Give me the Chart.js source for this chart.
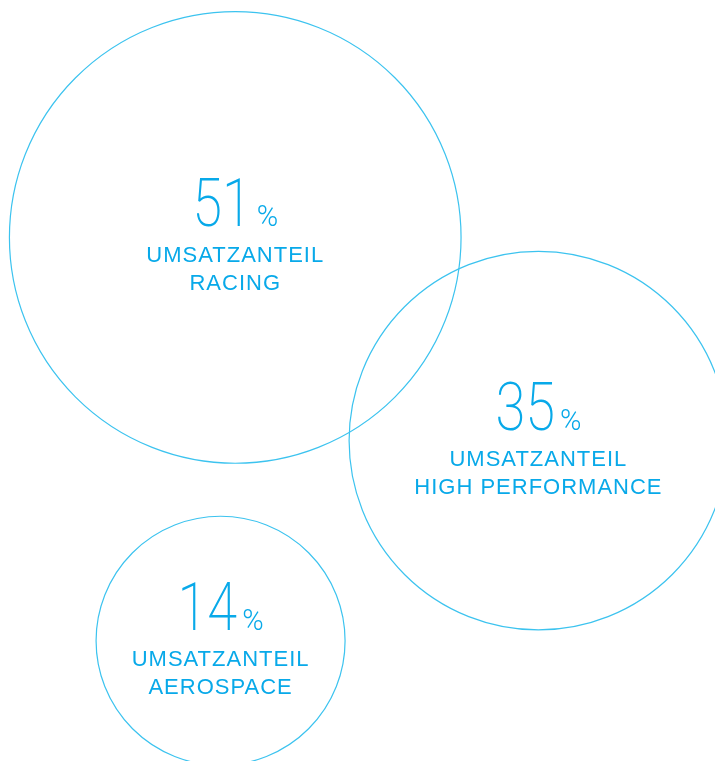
<!DOCTYPE html>
<html>
<head>
<meta charset="utf-8">
<script src="https://cdn.jsdelivr.net/npm/chart.js@4/dist/chart.umd.min.js"></script>
<style>
    html, body { margin: 0; padding: 0; background: #fff; }
    #wrap { width: 715px; height: 761px; }
</style>
</head>
<body>
<div id="wrap"><canvas id="shareChart" width="715" height="761"></canvas></div>
<script>
// Umsatzanteile je Geschäftsbereich
const segments = ['RACING', 'HIGH PERFORMANCE', 'AEROSPACE'];
const shares = [51, 35, 14];
// Lage der Kreise auf der Seite (0..100)
const posX = [32.9, 75.3, 30.85];
const posY = [31.2, 57.9, 84.2];

const circleColor = '#3cc3ef';
const textColor = '#08a9e9';

const labelPlugin = {
    id: 'bubbleLabels',
    afterDatasetsDraw(chart) {
        const ctx = chart.ctx;
        const meta = chart.getDatasetMeta(0);

        meta.data.forEach((el, i) => {
            const cx = el.x;
            const cy = el.y;
            const num = String(shares[i]);

            ctx.save();
            ctx.fillStyle = textColor;
            ctx.textBaseline = 'alphabetic';

            // Zahl (schmal) + Prozentzeichen
            const sx = 0.82;
            ctx.font = '200 66px Roboto';
            const numW = ctx.measureText(num).width * sx;
            ctx.font = '300 29px Roboto';
            const pctW = ctx.measureText('%').width;
            const gap = 5;
            const startX = cx - (numW + gap + pctW) / 2;

            ctx.save();
            ctx.translate(startX, cy - 11);
            ctx.scale(sx, 1);
            ctx.font = '200 66px Roboto';
            ctx.textAlign = 'left';
            ctx.fillText(num, 0, 0);
            ctx.restore();

            ctx.font = '300 29px Roboto';
            ctx.textAlign = 'left';
            ctx.fillText('%', startX + numW + gap, cy - 11);

            ctx.font = '22px "Liberation Sans", Arial, sans-serif';
            ctx.textAlign = 'center';
            ctx.letterSpacing = '1px';
            ctx.fillText('UMSATZANTEIL', cx, cy + 25);
            ctx.fillText(segments[i], cx, cy + 53);
            ctx.restore();
        });
    }
};

new Chart(document.querySelector('#shareChart'), {
    type: 'bubble',
    data: {
        datasets: [{
            data: shares.map((s, i) => ({x: posX[i], y: posY[i], v: s})),
            // Kreisgröße wächst mit der Wurzel des Anteils
            radius: ctx => 29.8 * Math.sqrt(ctx.raw.v) + 13,
            backgroundColor: 'rgba(0,0,0,0)',
            borderColor: circleColor,
            borderWidth: 1.2,
            hoverRadius: 0,
            clip: false
        }]
    },
    options: {
        responsive: false,
        animation: false,
        events: [],
        layout: { padding: 0, autoPadding: false },
        plugins: {
            legend: { display: false },
            tooltip: { enabled: false }
        },
        scales: {
            x: { type: 'linear', min: 0, max: 100, display: false },
            y: { type: 'linear', min: 0, max: 100, reverse: true, display: false }
        }
    },
    plugins: [labelPlugin]
});
</script>
</body>
</html>
